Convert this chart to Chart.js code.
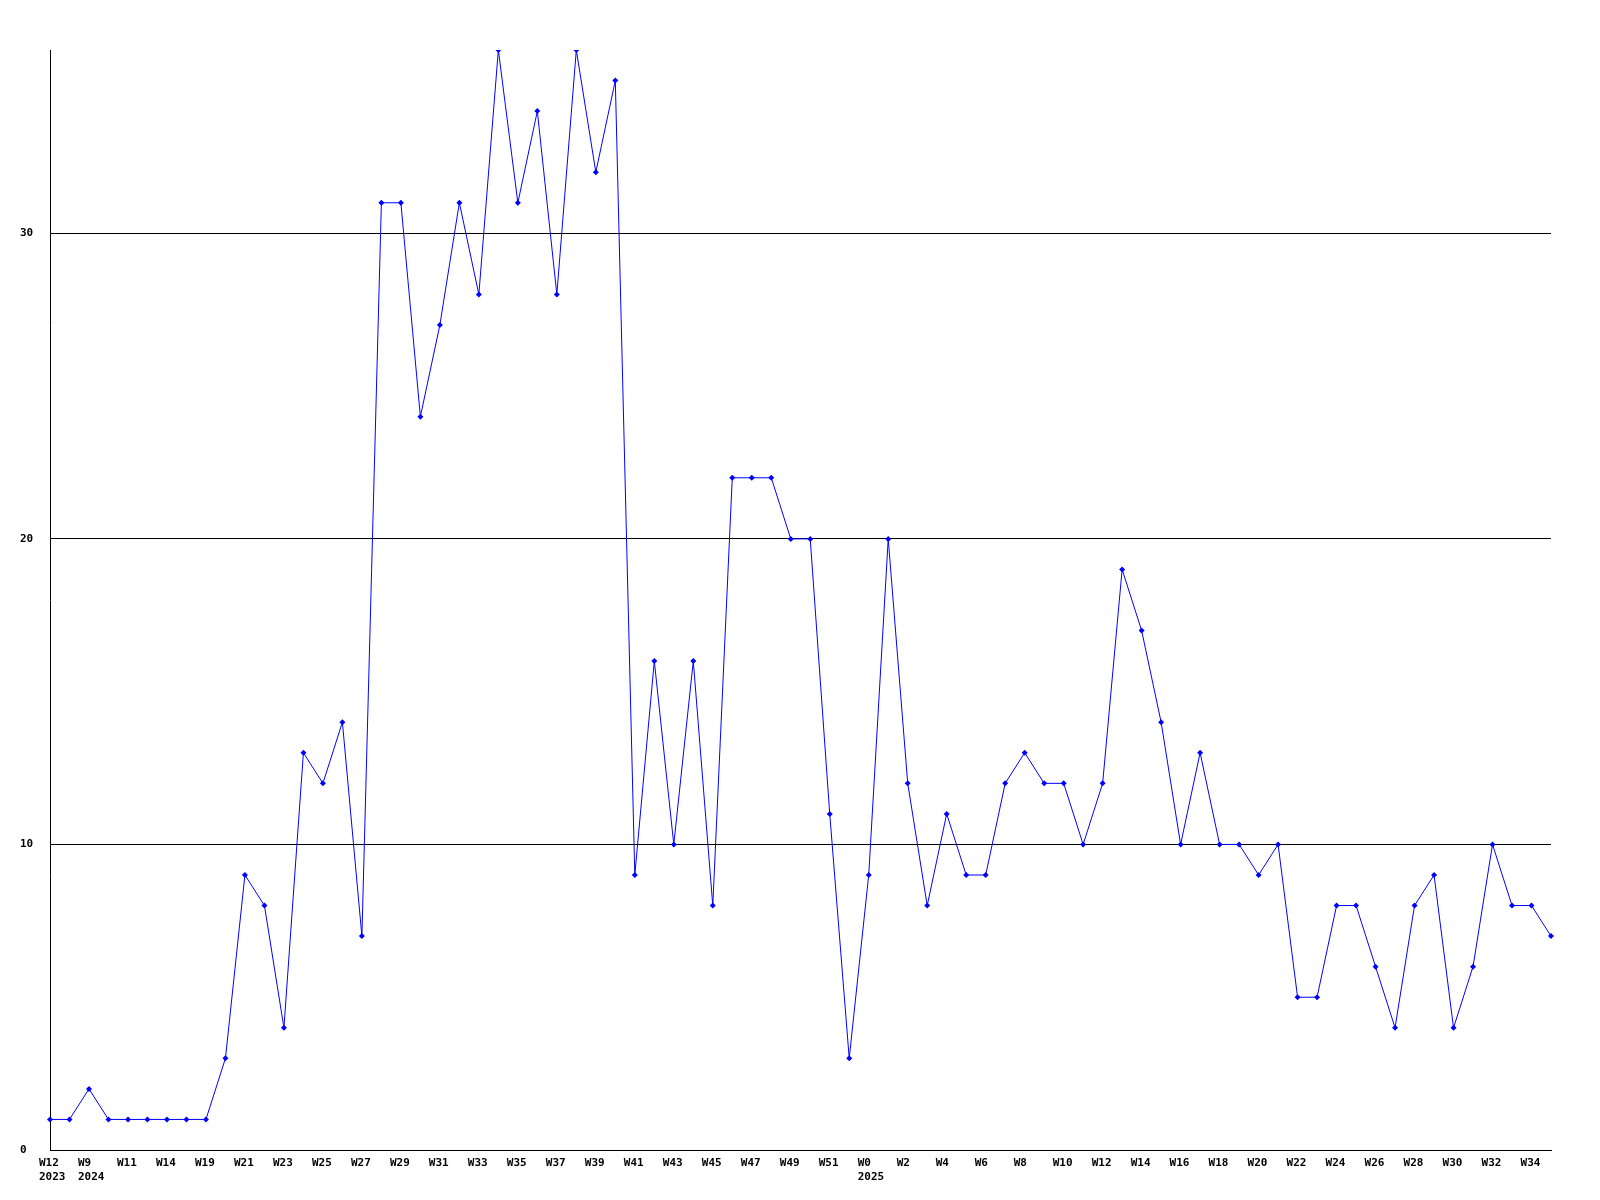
<!DOCTYPE html>
<html>
<head>
<meta charset="utf-8">
<script src="https://cdn.jsdelivr.net/npm/chart.js@4/dist/chart.umd.min.js"></script>
<style>
  body { margin: 0; background: #fff; }
  canvas { display: block; }
</style>
</head>
<body>
<canvas id="weeklyChart" width="1600" height="1200"></canvas>
<script>
// week labels along the x axis (only every other one is printed)
const weeks = [
  "W12", "W13", "W9", "W10", "W11", "W13", "W14", "W16", "W19", "W20",
  "W21", "W22", "W23", "W24", "W25", "W26", "W27", "W28", "W29", "W30",
  "W31", "W32", "W33", "W34", "W35", "W36", "W37", "W38", "W39", "W40",
  "W41", "W42", "W43", "W44", "W45", "W46", "W47", "W48", "W49", "W50",
  "W51", "W52", "W0", "W1", "W2", "W3", "W4", "W5", "W6", "W7",
  "W8", "W9", "W10", "W11", "W12", "W13", "W14", "W15", "W16", "W17",
  "W18", "W19", "W20", "W21", "W22", "W23", "W24", "W25", "W26", "W27",
  "W28", "W29", "W30", "W31", "W32", "W33", "W34", "W35",
];

// year shown under the first week of each year
const yearStarts = [0, 2, 42];
const years = ["2023", "2024", "2025"];

const counts = [
  1, 1, 2, 1, 1, 1, 1, 1, 1, 3,
  9, 8, 4, 13, 12, 14, 7, 31, 31, 24,
  27, 31, 28, 36, 31, 34, 28, 36, 32, 35,
  9, 16, 10, 16, 8, 22, 22, 22, 20, 20,
  11, 3, 9, 20, 12, 8, 11, 9, 9, 12,
  13, 12, 12, 10, 12, 19, 17, 14, 10, 13,
  10, 10, 9, 10, 5, 5, 8, 8, 6, 4,
  8, 9, 4, 6, 10, 8, 8, 7,
];

const yTicks = [0, 10, 20, 30];
const yMax = 36;

const labelFont = {
  family: "'DejaVu Sans Mono', monospace",
  size: 11,
  weight: "bold",
  lineHeight: "14px",
};

var ctx = document.getElementById("weeklyChart").getContext("2d");
var weeklyChart = new Chart(ctx, {
  type: "line",
  data: {
    labels: weeks,
    datasets: [
      {
        data: counts,
        borderColor: "#0000ff",
        backgroundColor: "#0000ff",
        borderWidth: 1,
        pointStyle: "rectRot",
        pointRadius: 3,
        pointBorderWidth: 0,
        tension: 0,
        fill: false,
      },
    ],
  },
  options: {
    responsive: false,
    devicePixelRatio: 1,
    animation: false,
    layout: { padding: { left: 20, top: 50, right: 49, bottom: 0 } },
    plugins: {
      legend: { display: false },
      tooltip: { enabled: false },
    },
    scales: {
      x: {
        offset: false,
        grid: { display: false, drawTicks: false },
        border: { display: true, color: "#000", width: 1 },
        ticks: {
          autoSkip: false,
          maxRotation: 0,
          minRotation: 0,
          align: "start",
          labelOffset: -11,
          padding: 6,
          color: "#000",
          font: labelFont,
          callback: function (value, index) {
            if (index % 2 !== 0) return "";
            const y = yearStarts.indexOf(index);
            if (y >= 0) return [weeks[index], years[y]];
            return weeks[index];
          },
        },
        afterFit: function (scale) {
          scale.height = 50;
        },
      },
      y: {
        min: 0,
        max: yMax,
        grid: { color: "#000", lineWidth: 1, drawTicks: false },
        border: { display: true, color: "#000", width: 1 },
        ticks: {
          crossAlign: "far",
          color: "#000",
          font: labelFont,
        },
        afterBuildTicks: function (scale) {
          scale.ticks = yTicks.map((v) => ({ value: v }));
        },
        afterFit: function (scale) {
          scale.width = 30;
        },
      },
    },
  },
});
</script>
</body>
</html>
